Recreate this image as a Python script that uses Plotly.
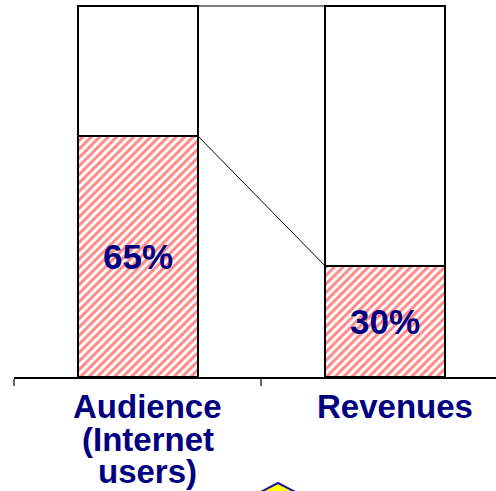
import plotly.graph_objects as go

# Share of audience vs share of revenues
categories = ["Audience (Internet users)", "Revenues"]
label_lines = [["Audience", "(Internet", "users)"], ["Revenues"]]
share = [65, 30]
remainder = [100 - v for v in share]
total = [a + b for a, b in zip(share, remainder)]

NAVY = "#000080"
FONT = "Liberation Sans, Arial, sans-serif"
BAR_W = 0.486

x_pos = list(range(len(categories)))

fig = go.Figure()

# hatched lower segment
fig.add_trace(go.Bar(
    x=x_pos, y=share, width=BAR_W,
    marker=dict(
        color="white",
        line=dict(color="black", width=2),
        pattern=dict(shape="/", fgcolor="#ff1010", bgcolor="white",
                     size=6, solidity=0.5),
    ),
    hoverinfo="skip", showlegend=False,
))

# empty upper segment
fig.add_trace(go.Bar(
    x=x_pos, y=remainder, width=BAR_W,
    marker=dict(color="white", line=dict(color="black", width=2)),
    hoverinfo="skip", showlegend=False,
))

# percentage labels centred in the hatched segments
for xi, v in zip(x_pos, share):
    fig.add_annotation(
        x=xi, y=v / 2, xref="x", yref="y", text=f"<b>{v}%</b>",
        showarrow=False, xanchor="center", yanchor="middle",
        font=dict(family=FONT, size=35, color=NAVY),
    )

# connector lines between the two bars
x_left_edge = x_pos[0] + BAR_W / 2
x_right_edge = x_pos[1] - BAR_W / 2
for y0, y1 in [(share[0], share[1]), (total[0], total[1])]:
    fig.add_trace(go.Scatter(
        x=[x_left_edge, x_right_edge], y=[y0, y1], mode="lines",
        line=dict(color="black", width=1), hoverinfo="skip", showlegend=False,
    ))

# category labels, one annotation per line for tight leading
PLOT_H = 375
LINE_PX = 32.5
for xi, lines in zip(x_pos, label_lines):
    for k, txt in enumerate(lines):
        fig.add_annotation(
            x=xi, xref="x", xshift=10,
            y=-(29.5 + k * LINE_PX) / PLOT_H, yref="paper",
            text=f"<b>{txt}</b>", showarrow=False,
            xanchor="center", yanchor="middle",
            font=dict(family=FONT, size=33, color=NAVY),
        )

# arrow tip peeking in at the bottom edge
def px_to_paper(px, py):
    return (px - 14) / 482, (377 - py) / PLOT_H

ax, ay = px_to_paper(278, 483)
lx, ly = px_to_paper(251, 497)
rx, ry = px_to_paper(305, 497)
fig.add_shape(
    type="path", xref="paper", yref="paper",
    path=f"M {lx} {ly} L {ax} {ay} L {rx} {ry} Z",
    fillcolor="#ffff00", line=dict(color="#1a1aa0", width=2),
)

fig.update_layout(
    width=496, height=491,
    margin=dict(l=14, r=0, t=2, b=114),
    barmode="stack", bargap=0,
    plot_bgcolor="white", paper_bgcolor="white",
    xaxis=dict(
        range=[-0.5, 1.449], showgrid=False, zeroline=False,
        showline=True, linecolor="black", linewidth=1.5,
        tickmode="array", tickvals=[-0.5, 0.5, 1.5], ticktext=["", "", ""],
        ticks="outside", ticklen=7, tickcolor="#666", tickwidth=2,
        showticklabels=False,
    ),
    yaxis=dict(range=[0, 101.08], visible=False),
)

fig.write_html("out.html")
